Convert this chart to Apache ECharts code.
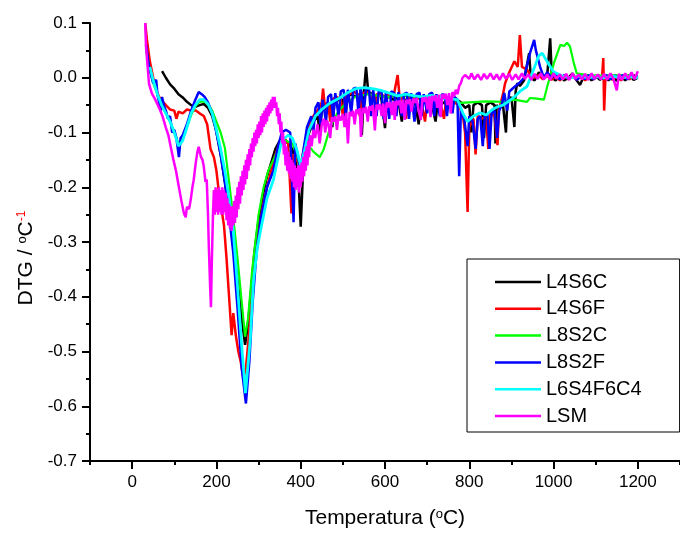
<!DOCTYPE html>
<html><head><meta charset="utf-8">
<script src="https://cdn.jsdelivr.net/npm/echarts@6/dist/echarts.min.js"></script>
<style>html,body{margin:0;padding:0;background:#fff}#c{width:680px;height:534px}</style>
</head><body><div id="c"></div>
<script>
const seriesNames = ['L4S6C','L4S6F','L8S2C','L8S2F','L6S4F6C4','LSM'];
const seriesColors = ['#000000','#ff0000','#00ff00','#0000ff','#00ffff','#ff00ff'];
const xMajorTicks = [0,200,400,600,800,1000,1200];
const xMinorTicks = [-100,100,300,500,700,900,1100,1300];
const yTicks = [-0.7,-0.6,-0.5,-0.4,-0.3,-0.2,-0.1,0.0,0.1];

const blackT = [71,80,90,100,110,120,130,140,150,160,170,180,190,200,210,220,230,240,250,260,268,275,282,290,300,310,320,330,340,350,360,370,380,390,395,400,405,410,420,430,440,445,450,460,470,475,480,490,500,505,510,520,530,540,545,550,555,560,570,580,590,600,605,610,620,630,640,645,650,660,670,680,685,690,700,710,720,725,730,740,750,760,770,780,790,800,805,810,820,830,835,840,850,860,862,865,870,880,887,890,900,907,910,914,920,930,942,946,955,965,975,985,992,996,1005,1015,1025,1035,1045,1055,1063,1070,1080,1090,1100,1110,1120,1130,1140,1150,1160,1170,1180,1190,1200];
const blackV = [0.012,0.0,-0.012,-0.02,-0.03,-0.036,-0.044,-0.05,-0.053,-0.05,-0.048,-0.055,-0.07,-0.098,-0.14,-0.19,-0.247,-0.3,-0.37,-0.44,-0.488,-0.45,-0.39,-0.32,-0.26,-0.215,-0.18,-0.155,-0.13,-0.115,-0.11,-0.12,-0.13,-0.16,-0.19,-0.272,-0.18,-0.14,-0.1,-0.08,-0.07,-0.1,-0.06,-0.055,-0.05,-0.09,-0.045,-0.04,-0.04,-0.085,-0.035,-0.03,-0.035,-0.03,-0.105,-0.025,0.02,-0.025,-0.03,-0.035,-0.03,-0.092,-0.035,-0.035,-0.04,-0.035,-0.08,-0.04,-0.04,-0.045,-0.04,-0.085,-0.04,-0.045,-0.04,-0.045,-0.08,-0.045,-0.05,-0.045,-0.05,-0.045,-0.04,-0.045,-0.055,-0.05,-0.1,-0.05,-0.045,-0.05,-0.11,-0.05,-0.045,-0.05,-0.12,-0.05,-0.055,-0.05,-0.1,-0.045,-0.035,-0.09,-0.025,-0.01,-0.015,-0.005,0.045,0.0,-0.005,0.01,0.0,0.005,0.072,0.0,-0.005,0.005,-0.005,0.0,0.008,-0.005,-0.013,0.0,0.005,-0.005,0.003,-0.004,0.005,-0.005,0.004,-0.006,0.003,-0.005,0.005,-0.004,0.0];

const redT = [31,35,42,50,57,64,71,80,90,100,105,110,120,130,140,151,160,170,178,186,194,200,206,212,218,224,230,236,240,246,252,258,264,270,276,282,290,300,310,320,330,340,350,360,370,378,382,390,400,410,420,430,440,450,453,457,465,470,475,485,495,500,505,515,525,535,540,545,555,565,575,580,590,600,610,620,630,634,640,650,655,665,675,685,695,700,710,720,730,740,745,755,765,775,785,790,796,800,810,815,820,830,840,845,850,860,867,870,880,885,895,907,915,920,925,937,945,955,965,975,985,995,1005,1015,1025,1035,1045,1055,1065,1075,1085,1095,1105,1115,1118,1120,1123,1130,1140,1150,1160,1170,1180,1190,1200];
const redV = [0.1,0.07,0.03,0.0,-0.022,-0.035,-0.042,-0.05,-0.058,-0.06,-0.075,-0.062,-0.065,-0.058,-0.06,-0.06,-0.065,-0.07,-0.085,-0.13,-0.145,-0.17,-0.21,-0.24,-0.27,-0.33,-0.4,-0.47,-0.43,-0.47,-0.5,-0.52,-0.55,-0.53,-0.48,-0.42,-0.35,-0.285,-0.235,-0.2,-0.17,-0.14,-0.12,-0.11,-0.12,-0.248,-0.14,-0.15,-0.16,-0.12,-0.09,-0.07,-0.06,-0.045,-0.02,-0.05,-0.045,-0.08,-0.04,-0.035,-0.04,-0.07,-0.035,-0.03,-0.025,-0.03,-0.07,-0.03,-0.025,-0.03,-0.07,-0.03,-0.03,-0.035,-0.03,-0.035,0.005,-0.03,-0.035,-0.075,-0.035,-0.04,-0.035,-0.04,-0.08,-0.04,-0.04,-0.035,-0.04,-0.075,-0.04,-0.04,-0.045,-0.05,-0.07,-0.1,-0.245,-0.09,-0.075,-0.14,-0.07,-0.075,-0.07,-0.13,-0.065,-0.07,-0.123,-0.06,-0.03,-0.01,0.01,0.03,0.02,0.078,0.02,0.015,0.005,0.0,0.005,-0.003,0.004,-0.004,0.003,-0.005,0.004,-0.003,0.005,-0.004,0.003,-0.005,0.004,-0.003,0.005,0.0,0.036,-0.06,0.0,0.004,-0.004,0.003,-0.005,0.004,-0.003,0.005,0.0];

const greenT = [33,40,50,60,70,80,90,100,110,120,130,140,150,160,170,180,190,200,210,220,230,240,250,260,268,275,285,300,312,323,335,350,365,380,390,400,410,420,430,445,455,470,490,510,530,560,600,650,700,750,780,800,840,883,907,937,944,960,977,985,1001,1016,1025,1032,1039,1048,1055,1080,1120,1160,1200];
const greenV = [0.05,0.02,-0.01,-0.03,-0.05,-0.065,-0.08,-0.1,-0.12,-0.112,-0.09,-0.068,-0.052,-0.044,-0.043,-0.048,-0.06,-0.08,-0.1,-0.128,-0.19,-0.255,-0.33,-0.41,-0.473,-0.44,-0.35,-0.25,-0.2,-0.17,-0.15,-0.125,-0.115,-0.12,-0.14,-0.165,-0.14,-0.125,-0.135,-0.145,-0.13,-0.09,-0.06,-0.045,-0.035,-0.03,-0.035,-0.033,-0.037,-0.038,-0.046,-0.045,-0.043,-0.044,-0.04,-0.044,-0.037,-0.038,-0.04,-0.016,0.027,0.06,0.058,0.064,0.057,0.027,0.008,0.005,0.004,0.005,0.003];

const blueT = [33,40,45,50,57,60,64,68,71,75,80,85,90,95,100,105,111,115,120,130,140,150,158,165,172,180,190,200,210,220,230,240,250,260,270,278,286,295,305,320,335,345,355,365,375,383,387,395,400,405,415,425,430,435,442,447,452,460,465,472,477,482,490,495,502,507,512,520,525,532,537,542,550,555,562,567,572,580,585,592,597,602,610,615,622,627,632,640,645,652,657,662,670,675,682,687,692,700,705,712,717,722,730,735,742,747,752,760,765,772,776,780,788,796,800,808,815,820,826,832,837,843,848,853,860,866,871,877,883,890,895,907,918,930,944,954,958,968,977,985,995,1005,1015,1025,1035,1045,1055,1065,1075,1085,1095,1105,1115,1125,1135,1145,1155,1165,1175,1185,1200];
const blueV = [0.06,0.02,0.005,-0.01,-0.004,-0.03,-0.028,-0.06,-0.035,-0.05,-0.06,-0.075,-0.07,-0.1,-0.095,-0.11,-0.145,-0.11,-0.105,-0.085,-0.06,-0.04,-0.026,-0.03,-0.035,-0.045,-0.065,-0.1,-0.14,-0.19,-0.25,-0.32,-0.42,-0.53,-0.595,-0.52,-0.41,-0.32,-0.26,-0.2,-0.17,-0.13,-0.1,-0.095,-0.1,-0.264,-0.12,-0.15,-0.17,-0.14,-0.09,-0.07,-0.1,-0.055,-0.045,-0.085,-0.04,-0.08,-0.035,-0.03,-0.075,-0.028,-0.07,-0.025,-0.022,-0.07,-0.022,-0.065,-0.02,-0.018,-0.065,-0.018,-0.06,-0.02,-0.02,-0.07,-0.022,-0.07,-0.025,-0.025,-0.075,-0.027,-0.075,-0.025,-0.028,-0.07,-0.026,-0.07,-0.03,-0.027,-0.075,-0.028,-0.08,-0.03,-0.027,-0.07,-0.03,-0.065,-0.03,-0.027,-0.07,-0.03,-0.07,-0.03,-0.032,-0.07,-0.034,-0.065,-0.035,-0.04,-0.18,-0.06,-0.075,-0.125,-0.07,-0.08,-0.13,-0.075,-0.07,-0.125,-0.07,-0.065,-0.13,-0.065,-0.06,-0.11,-0.06,-0.05,-0.028,-0.06,-0.025,-0.017,-0.01,0.0,0.045,0.069,0.05,0.02,0.0,0.01,0.0,0.006,-0.003,0.005,-0.002,0.004,-0.004,0.003,-0.002,0.005,-0.003,0.004,-0.002,0.005,-0.003,0.004,-0.002,0.005,-0.003,0.004,0.002];

const cyanT = [42,50,60,70,80,90,100,110,120,130,140,150,160,170,180,190,200,210,220,230,240,250,260,269,280,288,297,305,320,335,345,355,370,380,390,400,410,420,435,450,470,490,510,530,550,570,590,610,630,650,670,690,710,730,750,772,785,796,810,826,840,855,867,880,895,907,920,937,954,965,973,985,1000,1020,1040,1060,1080,1100,1120,1140,1160,1180,1200];
const cyanV = [0.02,-0.005,-0.03,-0.05,-0.065,-0.08,-0.1,-0.125,-0.115,-0.09,-0.065,-0.05,-0.04,-0.04,-0.048,-0.065,-0.095,-0.13,-0.17,-0.22,-0.28,-0.38,-0.49,-0.576,-0.48,-0.37,-0.31,-0.278,-0.22,-0.187,-0.15,-0.115,-0.105,-0.11,-0.13,-0.16,-0.13,-0.095,-0.07,-0.058,-0.046,-0.038,-0.028,-0.02,-0.018,-0.02,-0.023,-0.028,-0.033,-0.03,-0.033,-0.035,-0.032,-0.036,-0.038,-0.04,-0.065,-0.08,-0.07,-0.064,-0.068,-0.058,-0.053,-0.05,-0.042,-0.035,-0.025,-0.016,0.018,0.04,0.045,0.029,0.011,0.003,0.0,0.003,0.0,0.002,0.0,0.003,0.0,0.002,0.0];

const magT = [31,33,40,47,55,64,72,80,86,92,98,104,111,117,123,127,130,135,139,143,146,151,155,158,163,167,170,174,177,180,182,185,187,189,192,194,196,198,200,202,204,206,208,210,212,214,216,218,220,222,224,226,228,230,232,234,236,238,240,242,244,246,248,250,252,254,256,258,260,262,264,266,268,270,272,274,276,278,280,282,284,286,288,290,292,294,296,298,300,302,304,306,308,310,312,314,316,318,320,322,324,326,328,330,332,334,336,338,340,342,344,346,348,350,352,354,356,358,360,362,364,366,368,370,372,374,376,378,380,382,384,386,388,390,392,394,396,398,400,402,404,406,408,410,412,414,416,418,420,422,426,430,434,440,445,450,455,458,462,466,470,474,478,482,486,490,495,500,504,508,512,516,520,524,528,532,536,540,543,547,551,555,559,563,567,571,576,580,584,588,592,596,600,604,608,612,616,620,623,627,631,635,639,643,647,651,655,659,663,667,671,675,680,685,689,693,697,701,705,708,712,716,720,724,728,732,736,740,744,748,752,756,760,764,768,772,776,780,784,790,800,805,812,820,828,835,842,850,858,865,872,880,887,895,902,910,917,925,932,940,947,955,962,970,977,985,992,1000,1007,1015,1022,1030,1037,1045,1052,1060,1067,1075,1082,1090,1097,1105,1112,1120,1127,1135,1142,1150,1155,1162,1170,1177,1185,1192,1200];
const magV = [0.1,0.056,-0.011,-0.029,-0.04,-0.055,-0.07,-0.091,-0.105,-0.128,-0.15,-0.17,-0.2,-0.225,-0.248,-0.255,-0.236,-0.24,-0.223,-0.2,-0.187,-0.155,-0.135,-0.126,-0.144,-0.15,-0.162,-0.19,-0.186,-0.25,-0.309,-0.38,-0.419,-0.338,-0.245,-0.205,-0.25,-0.2,-0.245,-0.205,-0.25,-0.2,-0.245,-0.205,-0.25,-0.2,-0.25,-0.205,-0.245,-0.21,-0.26,-0.22,-0.27,-0.23,-0.275,-0.235,-0.28,-0.235,-0.27,-0.225,-0.265,-0.215,-0.255,-0.2,-0.24,-0.19,-0.23,-0.18,-0.215,-0.17,-0.205,-0.16,-0.195,-0.15,-0.185,-0.14,-0.17,-0.13,-0.16,-0.12,-0.145,-0.11,-0.135,-0.1,-0.125,-0.095,-0.12,-0.085,-0.11,-0.08,-0.105,-0.07,-0.1,-0.065,-0.09,-0.06,-0.085,-0.055,-0.08,-0.05,-0.07,-0.045,-0.065,-0.04,-0.06,-0.035,-0.055,-0.035,-0.055,-0.045,-0.07,-0.055,-0.085,-0.065,-0.1,-0.08,-0.12,-0.1,-0.14,-0.115,-0.16,-0.125,-0.17,-0.135,-0.175,-0.145,-0.185,-0.15,-0.19,-0.155,-0.2,-0.16,-0.205,-0.165,-0.2,-0.16,-0.21,-0.16,-0.2,-0.155,-0.19,-0.145,-0.18,-0.135,-0.17,-0.125,-0.16,-0.115,-0.145,-0.105,-0.125,-0.095,-0.11,-0.085,-0.12,-0.085,-0.075,-0.1,-0.078,-0.085,-0.11,-0.072,-0.08,-0.07,-0.095,-0.068,-0.078,-0.066,-0.09,-0.064,-0.12,-0.062,-0.07,-0.06,-0.085,-0.058,-0.066,-0.056,-0.108,-0.055,-0.064,-0.053,-0.08,-0.052,-0.06,-0.05,-0.096,-0.049,-0.058,-0.048,-0.07,-0.047,-0.083,-0.045,-0.054,-0.044,-0.068,-0.043,-0.077,-0.042,-0.05,-0.041,-0.065,-0.04,-0.077,-0.04,-0.048,-0.039,-0.062,-0.038,-0.046,-0.037,-0.06,-0.077,-0.036,-0.044,-0.035,-0.058,-0.034,-0.072,-0.033,-0.042,-0.032,-0.055,-0.031,-0.072,-0.03,-0.038,-0.029,-0.05,-0.028,-0.065,-0.026,-0.034,-0.022,-0.03,-0.015,-0.01,0.0,0.005,-0.002,0.008,-0.003,0.006,-0.004,0.007,-0.002,0.008,-0.003,0.006,-0.004,0.008,-0.002,0.007,-0.004,0.006,-0.003,0.008,-0.002,0.006,-0.004,0.007,-0.002,0.008,-0.003,0.006,-0.004,0.008,-0.002,0.006,-0.003,0.007,-0.004,0.008,-0.002,0.006,-0.003,0.007,-0.004,0.008,-0.002,0.006,-0.003,0.007,-0.004,0.008,-0.002,-0.023,0.007,-0.004,0.008,-0.002,0.01,-0.003,0.012];

const seriesT = [blackT, redT, greenT, blueT, cyanT, magT];
const seriesV = [blackV, redV, greenV, blueV, cyanV, magV];
const lineWidths = [2.5,2.5,2.2,2.5,2.8,2.5];

const FONT = '"Liberation Sans", Arial, sans-serif';
const chart = echarts.init(document.getElementById('c'), null, {renderer:'canvas'});
const series = seriesNames.map((name,i)=>({
  name, type:'line', showSymbol:false, symbol:'none', animation:false,
  data: seriesT[i].map((t,k)=>[t, seriesV[i][k]]),
  lineStyle:{color:seriesColors[i], width:lineWidths[i]},
  itemStyle:{color:seriesColors[i]},
  z: 2+i
}));
chart.setOption({
  animation:false,
  backgroundColor:'#fff',
  textStyle:{fontFamily:FONT},
  grid:{left:90, top:23, width:593, height:438, containLabel:false},
  legend:{
    data: seriesNames, orient:'vertical', left:467, top:259,
    backgroundColor:'#fff', borderColor:'#000', borderWidth:1,
    padding:[13,38,6,28], itemGap:6.8, itemWidth:46, itemHeight:2.5, icon:'rect',
    textStyle:{fontSize:20, lineHeight:19, color:'#000', fontFamily:FONT}
  },
  xAxis:[{
    type:'value', min:-100, max:1300, position:'bottom',
    axisLine:{onZero:false, lineStyle:{color:'#000', width:2}},
    axisTick:{customValues:xMajorTicks, length:8, lineStyle:{color:'#000', width:2}},
    axisLabel:{customValues:xMajorTicks, margin:13, fontSize:17, color:'#000', fontFamily:FONT,
      formatter:v=>String(Math.round(v))},
    splitLine:{show:false},
    name:'Temperatura ({s|o}C)', nameLocation:'middle', nameGap:47,
    nameTextStyle:{fontSize:21, color:'#000', fontFamily:FONT,
      rich:{s:{fontSize:13, verticalAlign:'top', color:'#000', fontFamily:FONT, padding:[0,0,8,0]}}}
  },{
    type:'value', min:-100, max:1300, position:'bottom',
    axisLine:{show:false, onZero:false},
    axisTick:{customValues:xMinorTicks, length:4, lineStyle:{color:'#000', width:2}},
    axisLabel:{show:false}, splitLine:{show:false}
  }],
  yAxis:{
    type:'value', min:-0.7, max:0.1, interval:0.1,
    axisLine:{onZero:false, lineStyle:{color:'#000', width:2}},
    axisTick:{length:8, lineStyle:{color:'#000', width:2}},
    minorTick:{show:true, splitNumber:2, length:4, lineStyle:{color:'#000', width:2}},
    axisLabel:{margin:13, fontSize:17, color:'#000', fontFamily:FONT,
      formatter:v=>{const r=Math.round(v*10)/10; return Math.abs(r)<1e-9?'0.0':r.toFixed(1);}},
    splitLine:{show:false},
    name:'DTG / {s|o}C{r|-1}', nameLocation:'middle', nameGap:53,
    nameTextStyle:{fontSize:21, color:'#000', fontFamily:FONT, padding:[0,32,0,0],
      rich:{s:{fontSize:13, verticalAlign:'top', color:'#000', fontFamily:FONT, padding:[0,0,8,0]},
            r:{fontSize:12, verticalAlign:'top', color:'#ff0000', fontFamily:FONT, padding:[0,0,8,0]}}}
  },
  series
});
</script></body></html>
